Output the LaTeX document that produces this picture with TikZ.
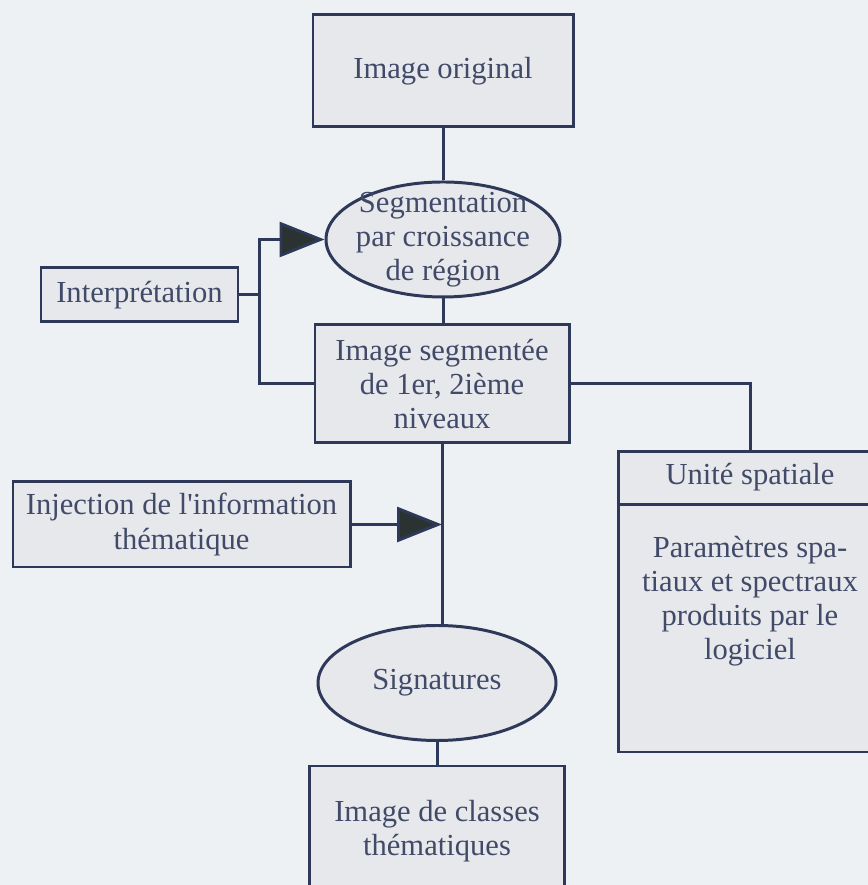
\documentclass[tikz,border=0pt]{standalone}
\usepackage{fontspec}
\setmainfont{Liberation Serif}
\usetikzlibrary{shapes.geometric,arrows.meta}
\definecolor{paper}{HTML}{EEF1F4}
\definecolor{boxfill}{HTML}{E6E8EB}
\definecolor{ink}{HTML}{2E3858}
\definecolor{txt}{HTML}{414A68}
\definecolor{tipfill}{HTML}{2A3232}

\begin{document}
\begin{tikzpicture}[
    font=\fontsize{17.4}{19.5}\selectfont,
    box/.style={draw=ink,fill=boxfill,line width=1.7pt,text=txt,align=center,inner sep=0pt},
    oval/.style={ellipse,draw=ink,fill=boxfill,line width=1.7pt,inner sep=0pt},
    words/.style={text=txt,align=center,inner sep=0pt},
    link/.style={draw=ink,line width=1.7pt},
    tip/.style={-{Triangle[length=9mm,width=7mm,fill=tipfill]}}
]
    % Page
    \useasboundingbox (0,0) rectangle (17.36,17.7);
    \fill[paper] (0,0) rectangle (17.36,17.7);
    \clip (0,0) rectangle (17.36,17.7);

    % Main chain
    \node[box,minimum width=5.2cm,minimum height=2.24cm] (orig) at (8.86,16.28) {Image original};
    \node[oval,minimum width=4.68cm,minimum height=2.3cm] (seg) at (8.86,12.91) {};
    \node[words] (segtext) at (seg) {Segmentation\\par croissance\\de région};
    \node[box,minimum width=5.08cm,minimum height=2.36cm] (segimg) at (8.84,10.02) {Image segmentée\\de 1er, 2ième\\niveaux};
    \node[oval,minimum width=4.76cm,minimum height=2.3cm] (sig) at (8.74,4.04) {};
    \node[words] (sigtext) at (sig) {Signatures};
    \node[box,minimum width=5.1cm,minimum height=2.6cm] (classes) at (8.74,1.08) {Image de classes\\thématiques};

    % Side boxes
    \node[box,minimum width=3.94cm,minimum height=1.08cm] (interp) at (2.79,11.8) {Interprétation};
    \node[box,minimum width=6.74cm,minimum height=1.7cm] (inj) at (3.63,7.21) {Injection de l\textquotesingle information\\thématique};

    % Spatial unit
    \node[box,minimum width=5.28cm,minimum height=6cm] (unit) at (15.0,5.66) {};
    \draw[link] ([yshift=-1.08cm]unit.north west) -- ([yshift=-1.08cm]unit.north east);
    \node[words] (unithead) at ([yshift=-0.54cm]unit.north) {Unité spatiale};
    \node[words,anchor=north] (unitbody) at ([yshift=-1.7cm]unit.north) {Paramètres spa-\\tiaux et spectraux\\produits par le\\logiciel};

    % Connectors
    \draw[link] (orig) -- (seg);
    \draw[link] (seg.south) -- (seg.south |- segimg.north);
    \draw[link] (segimg.south) -- (segimg.south |- sig.north);
    \draw[link] (sig.south) -- (classes.north);
    \coordinate (fork) at ([xshift=0.4cm]interp.east);
    \draw[link] (interp.east) -- (fork);
    \draw[link,tip] (fork) |- (seg.west);
    \draw[link] (fork) |- (segimg.west);
    \draw[link] (segimg.east) -| (unit.north);
    \draw[link,tip] (inj.east) -- (inj.east -| segimg.south);
\end{tikzpicture}
\end{document}
